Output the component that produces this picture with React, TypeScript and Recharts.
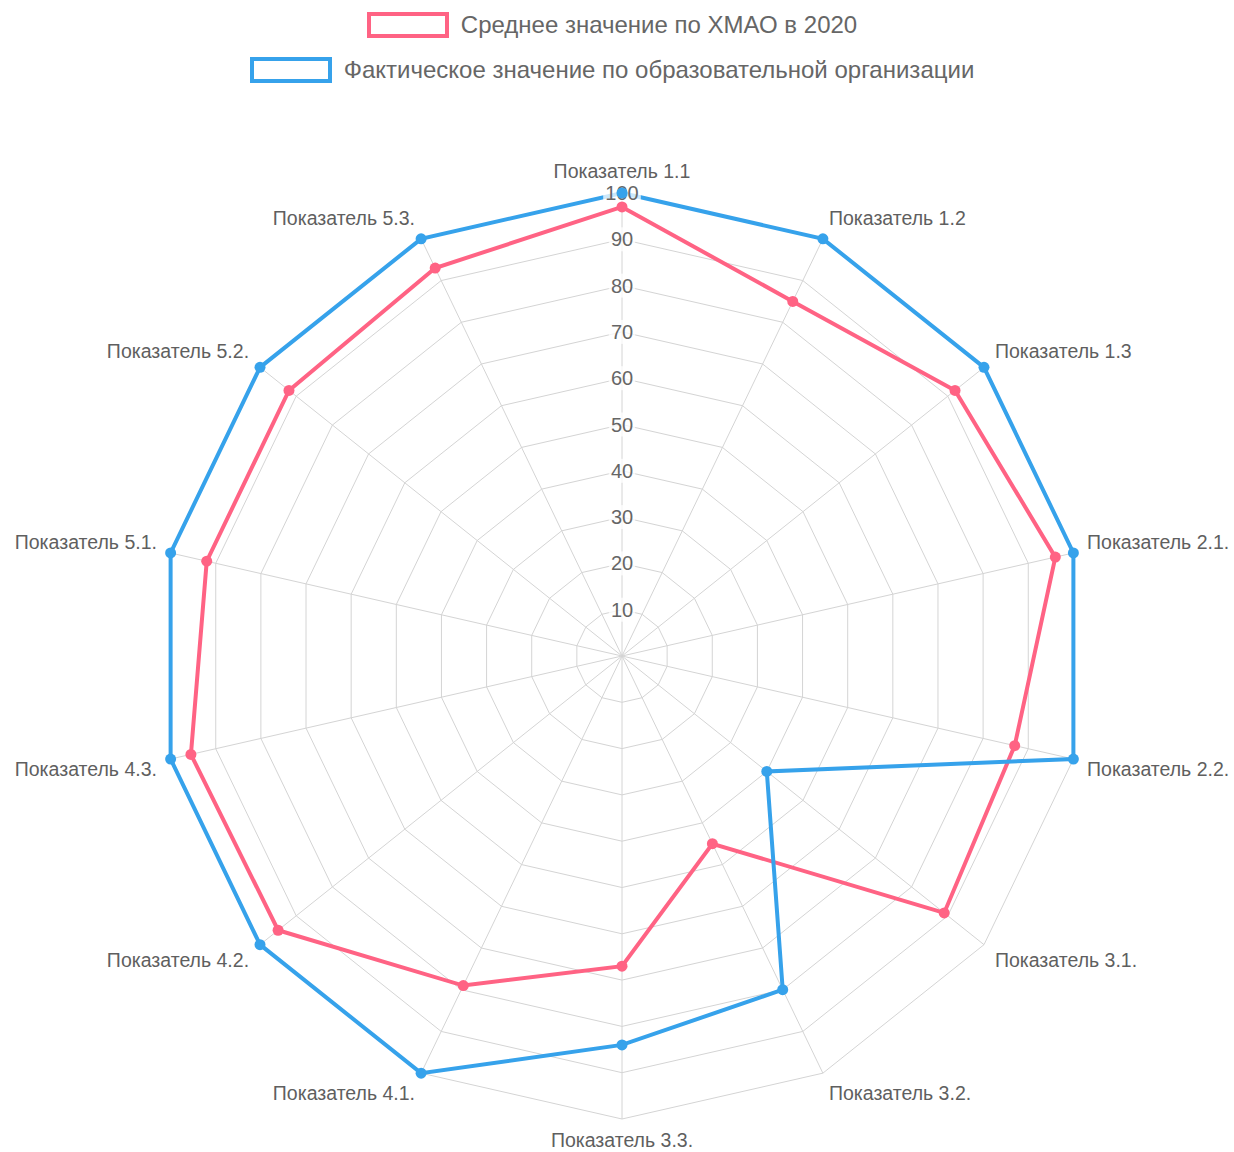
import React from "react";
import {
  RadarChart,
  Radar,
  PolarGrid,
  PolarAngleAxis,
  PolarRadiusAxis,
  Legend,
} from "recharts";

const categories = [
  "Показатель 1.1",
  "Показатель 1.2",
  "Показатель 1.3",
  "Показатель 2.1.",
  "Показатель 2.2.",
  "Показатель 3.1.",
  "Показатель 3.2.",
  "Показатель 3.3.",
  "Показатель 4.1.",
  "Показатель 4.2.",
  "Показатель 4.3.",
  "Показатель 5.1.",
  "Показатель 5.2.",
  "Показатель 5.3.",
];

const averageValues = [97, 85, 92, 96, 87, 89, 45, 67, 79, 95, 95.5, 92, 92, 93];
const actualValues = [100, 100, 100, 100, 100, 40, 80, 84, 100, 100, 100, 100, 100, 100];

const radiusTicks = [0, 10, 20, 30, 40, 50, 60, 70, 80, 90, 100];

const AVG_NAME = "Среднее значение по ХМАО в 2020";
const ACT_NAME = "Фактическое значение по образовательной организации";

const RED = "#ff6384";
const BLUE = "#36a2eb";
const TEXT = "#666";
const FONT = "'Liberation Sans', Arial, Helvetica, sans-serif";

const CX = 622;
const CY = 656;
const R = 463;

const data = categories.map((name, i) => ({
  name,
  avg: averageValues[i],
  act: actualValues[i],
}));

const AngleTick = (props: any) => {
  const { payload } = props;
  const a = (payload.coordinate * Math.PI) / 180;
  const dist = R + 14;
  const cos = Math.cos(a);
  const sin = Math.sin(a);
  const x = CX + dist * cos;
  const y = CY - dist * sin;
  let anchor = "middle";
  if (cos > 0.01) anchor = "start";
  else if (cos < -0.01) anchor = "end";
  const baseY = sin > 0 ? y - 1 : y + 14;
  return (
    <text
      x={x}
      y={baseY}
      textAnchor={anchor}
      fontSize={19.5}
      fill="#5f5f5f"
      fontFamily={FONT}
    >
      {payload.value}
    </text>
  );
};

const RadiusTick = (props: any) => {
  const { x, y, payload } = props;
  if (payload.value === 0) return <g />;
  const label = String(payload.value);
  const w = label.length * 11.2 + 4;
  return (
    <g>
      <rect
        x={x - w / 2}
        y={y - 12}
        width={w}
        height={24}
        fill="rgba(255,255,255,0.75)"
      />
      <text
        x={x}
        y={y + 7}
        textAnchor="middle"
        fontSize={20}
        fill={TEXT}
        fontFamily={FONT}
      >
        {label}
      </text>
    </g>
  );
};

const makeDot = (color: string) => (p: any) => (
  <circle key={`${color}-${p.index}`} cx={p.cx} cy={p.cy} r={5.5} fill={color} />
);

const LegendContent = () => {
  const items = [
    { name: AVG_NAME, color: RED },
    { name: ACT_NAME, color: BLUE },
  ];
  return (
    <div
      style={{
        width: 1224,
        display: "flex",
        flexDirection: "column",
        alignItems: "center",
        paddingTop: 12,
        gap: 19,
        fontFamily: FONT,
      }}
    >
      {items.map((it) => (
        <div
          key={it.name}
          style={{ display: "flex", alignItems: "center", height: 26 }}
        >
          <div
            style={{
              width: 82,
              height: 26,
              boxSizing: "border-box",
              border: `4px solid ${it.color}`,
              background: "#fff",
              marginRight: 12,
            }}
          />
          <span style={{ fontSize: 24, color: TEXT, lineHeight: "26px" }}>
            {it.name}
          </span>
        </div>
      ))}
    </div>
  );
};

export default function App() {
  return (
    <div
      style={{
        position: "absolute",
        left: 0,
        top: 0,
        width: 1234,
        height: 1152,
        background: "#fff",
      }}
    >
      <RadarChart
        width={1234}
        height={1152}
        data={data}
        cx={CX}
        cy={CY}
        outerRadius={R}
        margin={{ top: 0, right: 0, bottom: 0, left: 0 }}
      >
        <PolarGrid gridType="polygon" stroke="#d4d4d4" strokeWidth={1} />
        <PolarAngleAxis
          dataKey="name"
          tick={AngleTick}
          tickLine={false}
          axisLine={false}
        />
        <PolarRadiusAxis
          angle={90}
          domain={[0, 100]}
          ticks={radiusTicks as any}
          tickCount={11}
          tick={RadiusTick}
          axisLine={false}
          tickLine={false}
        />
        <Legend
          verticalAlign="top"
          wrapperStyle={{ top: 0, left: 0, width: 1224 }}
          content={LegendContent}
        />
        <Radar
          name={AVG_NAME}
          dataKey="avg"
          stroke={RED}
          strokeWidth={4}
          fill="none"
          fillOpacity={0}
          dot={makeDot(RED)}
          isAnimationActive={false}
        />
        <Radar
          name={ACT_NAME}
          dataKey="act"
          stroke={BLUE}
          strokeWidth={4}
          fill="none"
          fillOpacity={0}
          dot={makeDot(BLUE)}
          isAnimationActive={false}
        />
      </RadarChart>
    </div>
  );
}
